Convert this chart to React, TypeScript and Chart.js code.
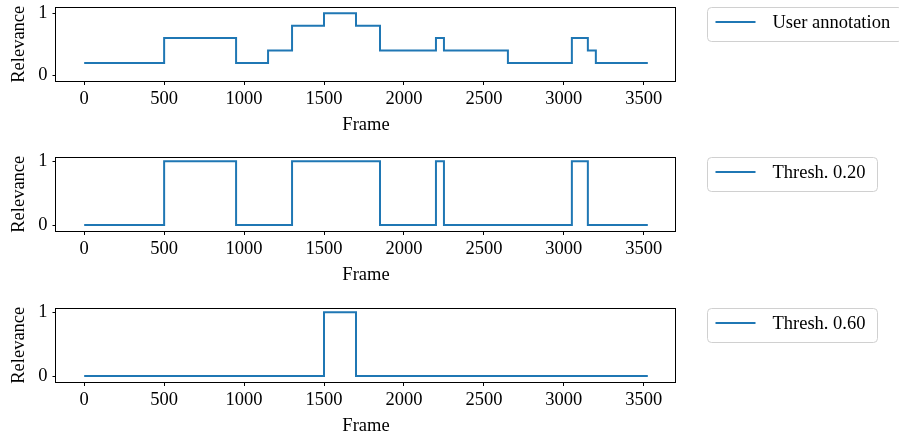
import React, { useEffect, useRef } from "react";
import { Chart, registerables } from "chart.js";

Chart.register(...registerables);

// ---- Data ----
const userFrames = [0, 500, 950, 1150, 1300, 1500, 1700, 1850, 2200, 2250, 2650, 3050, 3150, 3200, 3525];
const userValues = [0.2, 0.6, 0.2, 0.4, 0.8, 1.0, 0.8, 0.4, 0.6, 0.4, 0.2, 0.6, 0.4, 0.2, 0.2];

const thresh20Frames = [0, 500, 950, 1300, 1850, 2200, 2250, 3050, 3150, 3525];
const thresh20Values = [0, 1, 0, 1, 0, 1, 0, 1, 0, 0];

const thresh60Frames = [0, 1500, 1700, 3525];
const thresh60Values = [0, 1, 0, 0];

const xTickValues = [0, 500, 1000, 1500, 2000, 2500, 3000, 3500];
const yTickValues = [0, 1];

const legendLabels = ["User annotation", "Thresh. 0.20", "Thresh. 0.60"];
const xTitle = "Frame";
const yTitle = "Relevance";

const FONT = "'Liberation Serif', 'Times New Roman', serif";
const FS = 18.5;
const BLUE = "#1f77b4";

type PanelSpec = {
  frames: number[];
  values: number[];
  label: string;
  yMin: number;
  yMax: number;
  top: number;
};

const panels: PanelSpec[] = [
  { frames: userFrames, values: userValues, label: legendLabels[0], yMin: -0.1, yMax: 1.1, top: 0 },
  { frames: thresh20Frames, values: thresh20Values, label: legendLabels[1], yMin: -0.1, yMax: 1.065, top: 150 },
  { frames: thresh60Frames, values: thresh60Values, label: legendLabels[2], yMin: -0.1, yMax: 1.065, top: 301 },
];

const CANVAS_W = 899;
const CANVAS_H = 134;

function Panel({ spec }: { spec: PanelSpec }) {
  const ref = useRef<HTMLCanvasElement | null>(null);

  useEffect(() => {
    if (!ref.current) return;
    const maxFrame = Math.max(...spec.frames);
    const minFrame = Math.min(...spec.frames);
    const span = maxFrame - minFrame;

    const boxPlugin = {
      id: "boxPlugin",
      afterDraw(chart: any) {
        const { ctx, chartArea: a } = chart;
        ctx.save();
        ctx.strokeStyle = "#000";
        ctx.lineWidth = 1;
        const l = Math.round(a.left) + 0.5;
        const t = Math.round(a.top) + 0.5;
        const r = Math.round(a.right) - 0.5;
        const b = Math.round(a.bottom) - 0.5;
        ctx.strokeRect(l - 1, t, r - l + 1, b - t);

        // legend
        const lx = Math.round(a.right) + 31 + 0.5;
        const ly = Math.round(a.top) + 0.5;
        ctx.font = `${FS}px ${FONT}`;
        const tw = ctx.measureText(spec.label).width;
        const textX = lx + 65;
        const w = textX - lx + tw + 12;
        const h = 34;
        const rad = 4;
        ctx.beginPath();
        ctx.moveTo(lx + rad, ly);
        ctx.lineTo(lx + w - rad, ly);
        ctx.arcTo(lx + w, ly, lx + w, ly + rad, rad);
        ctx.lineTo(lx + w, ly + h - rad);
        ctx.arcTo(lx + w, ly + h, lx + w - rad, ly + h, rad);
        ctx.lineTo(lx + rad, ly + h);
        ctx.arcTo(lx, ly + h, lx, ly + h - rad, rad);
        ctx.lineTo(lx, ly + rad);
        ctx.arcTo(lx, ly, lx + rad, ly, rad);
        ctx.closePath();
        ctx.fillStyle = "rgba(255,255,255,0.8)";
        ctx.fill();
        ctx.strokeStyle = "#d0d0d0";
        ctx.lineWidth = 1;
        ctx.stroke();

        ctx.beginPath();
        ctx.strokeStyle = BLUE;
        ctx.lineWidth = 2;
        ctx.moveTo(lx + 8, ly + 14.5);
        ctx.lineTo(lx + 48, ly + 14.5);
        ctx.stroke();

        ctx.fillStyle = "#000";
        ctx.textBaseline = "middle";
        ctx.textAlign = "left";
        ctx.fillText(spec.label, textX, ly + 15.5);
        ctx.restore();
      },
    };

    const chart = new Chart(ref.current, {
      type: "line",
      data: {
        datasets: [
          {
            label: spec.label,
            data: spec.frames.map((f, i) => ({ x: f, y: spec.values[i] })),
            borderColor: BLUE,
            backgroundColor: BLUE,
            borderWidth: 2,
            pointRadius: 0,
            stepped: true,
            fill: false,
          },
        ],
      },
      options: {
        responsive: false,
        animation: false,
        devicePixelRatio: 1,
        layout: { padding: { left: 0, right: 223, top: 7, bottom: 0 } },
        plugins: {
          legend: { display: false },
          tooltip: { enabled: false },
        },
        scales: {
          x: {
            type: "linear",
            min: minFrame - 0.05 * span,
            max: maxFrame + 0.05 * span,
            afterBuildTicks: (scale: any) => {
              scale.ticks = xTickValues.map((v) => ({ value: v }));
            },
            afterFit: (scale: any) => {
              scale.height = 52.5;
              scale.paddingLeft = 0;
              scale.paddingRight = 0;
            },
            grid: {
              display: true,
              drawOnChartArea: false,
              drawTicks: true,
              tickLength: 3.5,
              color: "#000",
              lineWidth: 1,
            },
            border: { display: false },
            ticks: {
              color: "#000",
              font: { family: FONT, size: FS },
              padding: 3,
              maxRotation: 0,
              autoSkip: false,
              callback: (v: any) => String(v),
            },
            title: {
              display: true,
              text: xTitle,
              color: "#000",
              font: { family: FONT, size: FS, lineHeight: 1 },
              padding: { top: 0, bottom: 0 },
            },
          },
          y: {
            type: "linear",
            min: spec.yMin,
            max: spec.yMax,
            afterBuildTicks: (scale: any) => {
              scale.ticks = yTickValues.map((v) => ({ value: v }));
            },
            afterFit: (scale: any) => {
              scale.width = 56;
              scale.paddingTop = 0;
              scale.paddingBottom = 0;
            },
            grid: {
              display: true,
              drawOnChartArea: false,
              drawTicks: true,
              tickLength: 3.5,
              color: "#000",
              lineWidth: 1,
            },
            border: { display: false },
            ticks: {
              color: "#000",
              font: { family: FONT, size: FS },
              padding: 5,
              autoSkip: false,
              callback: (v: any) => String(v),
            },
            title: {
              display: true,
              text: yTitle,
              color: "#000",
              font: { family: FONT, size: FS, lineHeight: 1 },
              padding: { top: 10, bottom: 0 },
            },
          },
        },
      },
      plugins: [boxPlugin],
    } as any);

    return () => chart.destroy();
  }, [spec]);

  return (
    <canvas
      ref={ref}
      width={CANVAS_W}
      height={CANVAS_H}
      style={{ position: "absolute", left: 0, top: spec.top, width: CANVAS_W, height: CANVAS_H }}
    />
  );
}

export default function App() {
  return (
    <div style={{ position: "absolute", left: 0, top: 0, width: 899, height: 439, background: "#fff", overflow: "hidden" }}>
      {panels.map((p, i) => (
        <Panel key={i} spec={p} />
      ))}
    </div>
  );
}
